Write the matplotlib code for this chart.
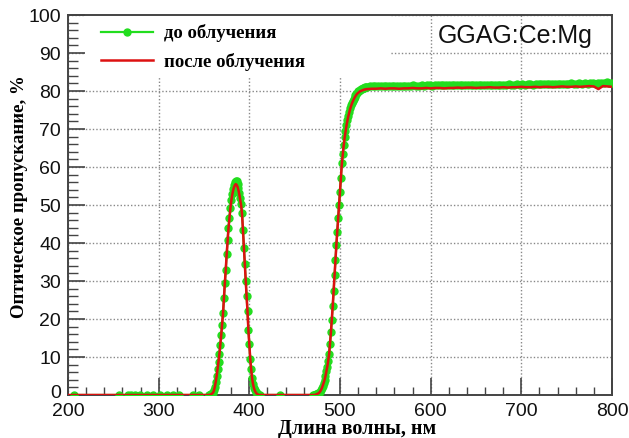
import numpy as np
import matplotlib
matplotlib.use("Agg")
import matplotlib.pyplot as plt
import matplotlib.transforms as mtransforms
from matplotlib.patches import Rectangle
from matplotlib.ticker import MultipleLocator

# ---------------- data ----------------
# "до облучения" (before irradiation), green with markers
green_zero_wl = [207, 256, 266, 270, 274, 279, 287, 294, 301, 309, 316, 322, 338, 345]
green_zero_val = [0] * len(green_zero_wl)

peak_wl = list(range(355, 413))  # 355..412
green_peak = [0.0, 0.0, 0.1, 0.2, 0.4, 0.6, 1.2, 2.2, 3.5, 5.0,
              6.8, 8.8, 10.8, 13.2, 15.8, 18.5, 21.5, 25.5, 29.5, 33.0,
              37.0, 40.7, 44.0, 46.5, 49.2, 51.3, 53.0, 54.3, 55.3, 56.0,
              56.4, 56.2, 55.5, 54.5, 53.2, 51.8, 50.2, 47.8, 43.3, 38.8,
              34.5, 30.0, 26.0, 22.0, 17.0, 13.5, 9.5, 6.8, 4.5, 3.0,
              1.9, 1.2, 0.7, 0.4, 0.2, 0.1, 0.0, 0.0]
red_peak = [0.0, 0.0, 0.1, 0.2, 0.4, 0.6, 1.2, 2.2, 3.5, 5.0,
            6.8, 8.8, 10.8, 13.2, 15.8, 18.5, 21.5, 25.5, 29.5, 33.0,
            37.0, 40.5, 43.8, 46.3, 48.9, 50.9, 52.5, 53.7, 54.6, 55.2,
            55.5, 55.3, 54.8, 53.9, 52.7, 51.3, 49.8, 47.5, 43.1, 38.6,
            34.3, 29.9, 25.9, 21.9, 17.0, 13.4, 9.5, 6.8, 4.5, 3.0,
            1.9, 1.2, 0.7, 0.4, 0.2, 0.1, 0.0, 0.0]

mid_zero_wl = [434]
mid_zero_val = [0]

edge_wl = list(range(470, 531))  # 470..530
green_edge = [0.0, 0.0, 0.0, 0.1, 0.2, 0.3, 0.4, 0.6, 0.9, 1.3,
              1.8, 2.5, 3.2, 4.0, 5.0, 6.2, 7.5, 9.0, 10.8, 13.5,
              16.5, 19.8, 23.5, 27.5, 31.5, 35.5, 39.5, 43.0, 46.5, 50.0,
              53.5, 57.2, 61.0, 63.5, 65.8, 67.8, 69.5, 71.0, 72.3, 73.5,
              74.5, 75.4, 76.2, 76.9, 77.5, 78.0, 78.5, 78.9, 79.3, 79.6,
              79.9, 80.1, 80.3, 80.5, 80.6, 80.7, 80.8, 80.9, 81.0, 81.0,
              81.1]
red_edge = [0.0, 0.0, 0.0, 0.1, 0.2, 0.3, 0.4, 0.6, 0.9, 1.3,
            1.8, 2.5, 3.2, 4.0, 5.0, 6.2, 7.5, 9.0, 10.8, 13.5,
            16.5, 19.8, 23.5, 27.5, 31.5, 35.5, 39.5, 43.0, 46.5, 50.0,
            53.5, 57.0, 60.7, 63.2, 65.5, 67.5, 69.2, 70.7, 72.0, 73.2,
            74.2, 75.1, 75.9, 76.6, 77.2, 77.7, 78.2, 78.6, 79.0, 79.3,
            79.5, 79.7, 79.9, 80.0, 80.1, 80.2, 80.3, 80.4, 80.4, 80.5,
            80.5]

green_plat_wl = list(range(533, 801, 3))  # 90 points
green_plat = [81.2, 81.2, 81.3, 81.2, 81.3, 81.4, 81.3, 81.3, 81.4, 81.3,
              81.4, 81.3, 81.4, 81.4, 81.3, 81.4, 81.5, 81.4, 81.4, 81.5,
              81.4, 81.5, 81.5, 81.4, 81.5, 81.5, 81.6, 81.5, 81.5, 81.6,
              81.5, 81.6, 81.5, 81.6, 81.6, 81.5, 81.6, 81.6, 81.7, 81.6,
              81.6, 81.7, 81.6, 81.6, 81.7, 81.6, 81.7, 81.7, 81.6, 81.7,
              81.7, 81.8, 81.7, 81.7, 81.8, 81.7, 81.8, 81.7, 81.8, 81.8,
              81.7, 81.8, 81.8, 81.9, 81.8, 81.8, 81.9, 81.8, 81.9, 81.8,
              81.9, 81.9, 81.8, 81.9, 82.0, 81.9, 81.9, 82.0, 81.9, 82.0,
              81.9, 82.0, 82.0, 81.9, 82.1, 82.0, 82.2, 82.3, 82.1, 82.0]

red_plat_wl = list(range(535, 801, 5))  # 54 points
red_plat = [80.6, 80.6, 80.7, 80.6, 80.7, 80.7, 80.6, 80.7, 80.7, 80.8,
            80.7, 80.7, 80.8, 80.7, 80.8, 80.8, 80.7, 80.8, 80.8, 80.9,
            80.8, 80.9, 80.9, 80.8, 80.9, 80.9, 81.0, 80.9, 80.9, 81.0,
            80.9, 81.0, 81.0, 81.1, 81.0, 81.0, 81.1, 81.0, 81.1, 81.1,
            81.0, 81.1, 81.2, 81.1, 81.1, 81.2, 81.1, 81.2, 81.3, 81.2,
            80.5, 81.3, 81.2, 81.1]

red_start_wl = [200]
red_start_val = [0]

x_ticks = [200, 300, 400, 500, 600, 700, 800]
y_ticks = [0, 10, 20, 30, 40, 50, 60, 70, 80, 90, 100]

label_before = "до облучения"
label_after = "после облучения"
sample_name = "GGAG:Ce:Mg"
xlabel = "Длина волны, нм"
ylabel = "Оптическое пропускание, %"

# ---------------- assemble series ----------------
g_x = green_zero_wl + peak_wl + mid_zero_wl + edge_wl + green_plat_wl
g_y = green_zero_val + green_peak + mid_zero_val + green_edge + green_plat
r_x = red_start_wl + peak_wl + edge_wl + red_plat_wl
r_y = red_start_val + red_peak + red_edge + red_plat

# ---------------- figure ----------------
fig = plt.figure(figsize=(6.29, 4.38), dpi=100)
ax = fig.add_axes([68 / 629, 43 / 438, 544 / 629, 380 / 438])

green = "#22dd1e"
red = "#dd1111"

ax.plot(g_x, g_y, color=green, lw=1.6, marker="o", ms=5, mec=green, mfc=green,
        label=label_before, zorder=3)
ax.plot(r_x, r_y, color=red, lw=1.8, label=label_after, zorder=4)

ax.set_xlim(200, 800)
ax.set_ylim(0, 100)
ax.set_xticks(x_ticks)
ax.set_yticks(y_ticks)
ax.xaxis.set_minor_locator(MultipleLocator(20))
ax.yaxis.set_minor_locator(MultipleLocator(2))

tick_font = dict(family="Liberation Sans", size=14)
ax.set_xticklabels([str(v) for v in x_ticks], **tick_font)
ax.set_yticklabels([str(v) for v in y_ticks], **tick_font)
ax.tick_params(axis="both", which="both", direction="in", top=False, right=False,
               colors="#444444", labelcolor="#111111")
ax.tick_params(axis="x", which="major", length=12, width=1.2, pad=6)
ax.tick_params(axis="x", which="minor", length=6, width=1.0)
ax.tick_params(axis="y", which="major", length=12, width=1.2, pad=5)
ax.tick_params(axis="y", which="minor", length=7, width=1.0)

# nudge the "0" y label up slightly so it does not collide with "200"
zero_lbl = ax.get_yticklabels()[0]
zero_lbl.set_transform(zero_lbl.get_transform() +
                       mtransforms.ScaledTranslation(0, 3 / 100, fig.dpi_scale_trans))

for s in ax.spines.values():
    s.set_color("#444444")
    s.set_linewidth(1.4)

ax.grid(True, which="major", color="#888888", linestyle=(0, (1, 1.5)), linewidth=1.0)
ax.set_axisbelow(True)

# white box behind legend, hiding grid
ax.add_patch(Rectangle((17 / 544, (395 - 77) / 380), (390 - 85) / 544, 1 - (395 - 77) / 380,
                       transform=ax.transAxes, facecolor="white", edgecolor="none",
                       zorder=1.6))

leg = ax.legend(loc="upper left", bbox_to_anchor=(0.046, 0.995), frameon=False,
                prop=dict(family="Liberation Serif", weight="bold", size=13.5),
                handlelength=2.8, handletextpad=0.6, labelspacing=0.55,
                borderaxespad=0.0, numpoints=1)

ax.text(0.965, 0.975, sample_name, transform=ax.transAxes, ha="right", va="top",
        family="Liberation Sans", size=18, color="#111111")

ax.set_xlabel(xlabel, family="Liberation Serif", weight="bold", size=14.5)
ax.set_ylabel(ylabel, family="Liberation Serif", weight="bold", size=13.5)
ax.xaxis.set_label_coords((357 - 68) / 544, (395 - 419) / 380)
ax.yaxis.set_label_coords((28 - 68) / 544, (395 - 197) / 380)

fig.savefig("out.png", dpi=100)
